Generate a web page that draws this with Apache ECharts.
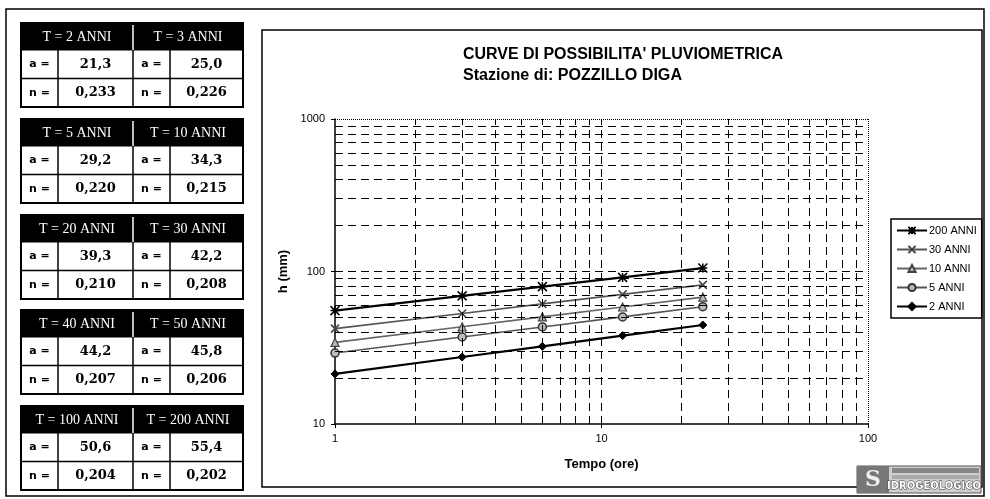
<!DOCTYPE html>
<html><head><meta charset="utf-8">
<script src="https://cdn.jsdelivr.net/npm/echarts@6/dist/echarts.min.js"></script>
<style>html,body{margin:0;padding:0;background:#fff}#c{width:990px;height:499px}</style>
</head><body><div id="c"></div>
<script>
// ---- data ----
const durations = [1, 3, 6, 12, 24];
const h200 = [55.4, 69.2, 79.6, 91.5, 105.3];
const h30  = [42.2, 53.0, 61.3, 70.8, 81.7];
const h10  = [34.3, 43.4, 50.4, 58.5, 67.9];
const h5   = [29.2, 37.2, 43.3, 50.4, 58.8];
const h2   = [21.3, 27.5, 32.3, 38.0, 44.6];
const seriesNames = ['200 ANNI', '30 ANNI', '10 ANNI', '5 ANNI', '2 ANNI'];
const tableT = ['2', '3', '5', '10', '20', '30', '40', '50', '100', '200'];
const tableA = ['21,3', '25,0', '29,2', '34,3', '39,3', '42,2', '44,2', '45,8', '50,6', '55,4'];
const tableN = ['0,233', '0,226', '0,220', '0,215', '0,210', '0,208', '0,207', '0,206', '0,204', '0,202'];
const xGrid = [2, 3, 4, 5, 6, 7, 8, 9, 10, 20, 30, 40, 50, 60, 70, 80, 90];
const yGrid = [20, 30, 40, 50, 60, 70, 80, 90, 100, 200, 300, 400, 500, 600, 700, 800, 900];
const titleLine1 = "CURVE DI POSSIBILITA' PLUVIOMETRICA";
const titleLine2 = 'Stazione di: POZZILLO DIGA';

const chart = echarts.init(document.getElementById('c'));
const pair = arr => durations.map((d, i) => [d, arr[i]]);

const mctx = document.createElement('canvas').getContext('2d');
function fitScale(text, font, target) {
  mctx.font = font;
  return target / mctx.measureText(text).width;
}

// ---- frames and tables (graphic) ----
const g = [];
g.push({type:'rect', shape:{x:6, y:9, width:978, height:487}, style:{fill:'none', stroke:'#000', lineWidth:1.5}, z:0});
g.push({type:'rect', shape:{x:262, y:30, width:720, height:457}, style:{fill:'none', stroke:'#000', lineWidth:1.5}, z:0});
const tops = [23, 119, 215, 310, 406];
const cx = [21, 58, 133, 170, 243];
function txt(t, x, y, font, fill) {
  return {type:'text', z:10, style:{text:t, x:x, y:y, font:font, fill:fill, textAlign:'center', textVerticalAlign:'middle', align:'center', verticalAlign:'middle'}};
}
tops.forEach((t0, k) => {
  const hh = 27, rh = 28.5;
  g.push({type:'rect', z:5, shape:{x:cx[0], y:t0, width:cx[4]-cx[0], height:hh}, style:{fill:'#000', stroke:'#000', lineWidth:1}});
  g.push({type:'line', z:6, shape:{x1:cx[2], y1:t0+2, x2:cx[2], y2:t0+hh}, style:{stroke:'#fff', lineWidth:1.5}});
  g.push({type:'rect', z:5, shape:{x:cx[0], y:t0, width:cx[4]-cx[0], height:hh+2*rh}, style:{fill:'none', stroke:'#000', lineWidth:2}});
  g.push({type:'line', z:5, shape:{x1:cx[0], y1:t0+hh+rh, x2:cx[4], y2:t0+hh+rh}, style:{stroke:'#000', lineWidth:1.5}});
  [1,2,3].forEach(j => g.push({type:'line', z:5, shape:{x1:cx[j], y1:t0+hh, x2:cx[j], y2:t0+hh+2*rh}, style:{stroke:'#000', lineWidth:1.5}}));
  for (let s = 0; s < 2; s++) {
    const idx = 2*k + s;
    const x0 = s === 0 ? cx[0] : cx[2];
    const xm = s === 0 ? cx[1] : cx[3];
    const x1 = s === 0 ? cx[2] : cx[4];
    g.push(txt('T = ' + tableT[idx] + ' ANNI', (x0 + x1)/2, t0 + hh/2 + 1, '14px "Liberation Serif"', '#fff'));
    g.push(txt('a =', (x0 + xm)/2, t0 + hh + rh/2, 'bold 11px "DejaVu Sans"', '#000'));
    g.push(txt(tableA[idx], (xm + x1)/2, t0 + hh + rh/2, 'bold 13px "DejaVu Serif"', '#000'));
    g.push(txt('n =', (x0 + xm)/2, t0 + hh + 1.5*rh, 'bold 11px "DejaVu Sans"', '#000'));
    g.push(txt(tableN[idx], (xm + x1)/2, t0 + hh + 1.5*rh, 'bold 13px "DejaVu Serif"', '#000'));
  }
});
// title
const tFont = 'bold 16px "Liberation Sans"';
g.push({type:'text', z:10, x:463, y:55, scaleX:fitScale(titleLine1, tFont, 320),
  style:{text:titleLine1, x:0, y:0, font:tFont, fill:'#000', align:'left', verticalAlign:'middle', textAlign:'left', textVerticalAlign:'middle'}});
g.push({type:'text', z:10, x:463, y:76, scaleX:fitScale(titleLine2, tFont, 219),
  style:{text:titleLine2, x:0, y:0, font:tFont, fill:'#000', align:'left', verticalAlign:'middle', textAlign:'left', textVerticalAlign:'middle'}});
// logo
g.push({type:'rect', z:5, shape:{x:857, y:466, width:124, height:27}, style:{fill:'#cfcfcf', stroke:'#555', lineWidth:1}});
g.push({type:'rect', z:6, shape:{x:857, y:466, width:32, height:27}, style:{fill:'#777'}});
g.push({type:'text', z:7, style:{text:'S', x:873, y:480, font:'bold 22px "DejaVu Serif"', fill:'#eee', align:'center', verticalAlign:'middle', textAlign:'center', textVerticalAlign:'middle'}});
g.push({type:'rect', z:7, shape:{x:892, y:468, width:87, height:5}, style:{fill:'#888'}});
g.push({type:'rect', z:7, shape:{x:892, y:475, width:87, height:4}, style:{fill:'#aaa'}});
g.push({type:'text', z:7, style:{text:'IDROGEOLOGICO', x:934, y:486, font:'bold 10px "DejaVu Sans"', fill:'#fff', stroke:'#333', lineWidth:1, align:'center', verticalAlign:'middle', textAlign:'center', textVerticalAlign:'middle'}});

const dash = [8, 5];
const gridSeries = {
  type:'line', name:'grid', data:[], silent:true, z:1,
  markLine:{
    silent:true, symbol:'none', label:{show:false}, animation:false,
    lineStyle:{color:'#000', width:1, type:dash},
    data: xGrid.map(v => ({xAxis:v})).concat(yGrid.map(v => ({yAxis:v}))).concat([
      {xAxis:100, lineStyle:{type:[1,1], width:1}},
      {yAxis:1000, lineStyle:{type:[1,1], width:1}}
    ])
  }
};

const ast = 'path://M0,0L10,10M10,0L0,10M5,0L5,10M0,5L10,5';
const xs = 'path://M0,0L10,10M10,0L0,10';
function mk(name, arr, color, width, symbol, size, fill, border, bw) {
  return {type:'line', name:name, data:pair(arr), z:3, symbol:symbol, symbolSize:size,
    lineStyle:{color:color, width:width}, itemStyle:{color:fill, borderColor:border, borderWidth:bw},
    emphasis:{disabled:true}, animation:false};
}
const axisFont = '"Liberation Sans", Arial';

chart.setOption({
  animation:false,
  backgroundColor:'#fff',
  graphic:g,
  grid:{left:335, right:122, top:119, bottom:75, show:false},
  legend:{
    data:seriesNames, orient:'vertical', left:891, top:219, width:87,
    padding:[6, 5, 6, 5], itemGap:8, itemWidth:30, itemHeight:9,
    borderColor:'#000', borderWidth:1.5, borderRadius:0,
    textStyle:{fontSize:11, fontFamily:axisFont, color:'#000', padding:[0,0,0,-3]}
  },
  xAxis:{
    type:'log', logBase:10, min:1, max:100,
    name:'Tempo (ore)', nameLocation:'middle', nameGap:34,
    nameTextStyle:{fontSize:13, fontWeight:'bold', fontFamily:axisFont, color:'#000'},
    axisLine:{show:true, lineStyle:{color:'#000', width:1.5}},
    axisTick:{show:true, length:4, lineStyle:{color:'#000'}},
    axisLabel:{fontSize:11, color:'#000', fontFamily:axisFont, margin:9, formatter:v => String(Math.round(v))},
    splitLine:{show:false}
  },
  yAxis:{
    type:'log', logBase:10, min:10, max:1000,
    name:'h (mm)', nameLocation:'middle', nameGap:40, nameRotate:90,
    nameTextStyle:{fontSize:13, fontWeight:'bold', fontFamily:axisFont, color:'#000'},
    axisLine:{show:true, lineStyle:{color:'#000', width:1.5}},
    axisTick:{show:true, length:4, lineStyle:{color:'#000'}},
    axisLabel:{fontSize:11, color:'#000', fontFamily:axisFont, margin:10, formatter:v => String(Math.round(v))},
    splitLine:{show:false}
  },
  series:[
    gridSeries,
    mk('200 ANNI', h200, '#000', 2.2, ast, 9, '#000', '#000', 1.5),
    mk('30 ANNI', h30, '#555', 1.6, xs, 8, '#555', '#444', 1.5),
    mk('10 ANNI', h10, '#666', 1.6, 'triangle', 8, '#bbb', '#444', 1.2),
    mk('5 ANNI', h5, '#555', 1.6, 'circle', 8, '#bbb', '#333', 1.5),
    mk('2 ANNI', h2, '#000', 2.2, 'diamond', 8, '#000', '#000', 1)
  ]
});
</script>
</body></html>
